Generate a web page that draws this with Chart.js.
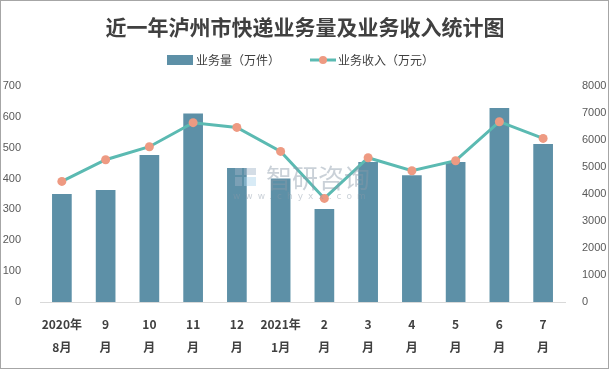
<!DOCTYPE html>
<html>
<head>
<meta charset="utf-8">
<script src="https://cdn.jsdelivr.net/npm/chart.js@4/dist/chart.umd.min.js"></script>
<style>
  html, body { margin: 0; padding: 0; background: #fff; }
  #wrap { width: 609px; height: 369px; position: relative; }
</style>
</head>
<body>
<div id="wrap"><canvas id="chart" width="609" height="369"></canvas></div>
<script>
const chartTitle = "近一年泸州市快递业务量及业务收入统计图";
const categories = [
  ["2020年", "8月"], ["9", "月"], ["10", "月"], ["11", "月"], ["12", "月"],
  ["2021年", "1月"], ["2", "月"], ["3", "月"], ["4", "月"], ["5", "月"],
  ["6", "月"], ["7", "月"]
];
const volumeLabel = "业务量（万件）";
const revenueLabel = "业务收入（万元）";
const volume = [350, 363, 476, 611, 434, 400, 301, 454, 411, 454, 629, 512];
const revenue = [4467, 5270, 5752, 6641, 6467, 5578, 3837, 5344, 4863, 5233, 6678, 6059];
const leftMax = 700, leftStep = 100;
const rightMax = 8000, rightStep = 1000;

const barColor = "#5d90a7";
const lineColor = "#5bbab2";
const dotColor = "#ee9a82";
const textColor = "#404040";

// 标题、图例、水印和边框
const decorPlugin = {
  id: "decor",
  afterDraw(chart) {
    const ctx = chart.ctx;
    ctx.save();
    // 边框
    ctx.strokeStyle = "#a6a6a6";
    ctx.lineWidth = 1;
    ctx.strokeRect(0.5, 0.5, 608, 368);

    // 标题
    ctx.fillStyle = textColor;
    ctx.font = "bold 21px 'Noto Sans CJK SC'";
    ctx.textAlign = "center";
    ctx.textBaseline = "middle";
    ctx.fillText(chartTitle, 305, 27);

    // 图例
    ctx.font = "12px 'Noto Sans CJK SC'";
    ctx.textAlign = "left";
    ctx.fillStyle = barColor;
    ctx.fillRect(167, 55, 26, 10);
    ctx.fillStyle = textColor;
    ctx.fillText(volumeLabel, 196, 60);

    ctx.strokeStyle = lineColor;
    ctx.lineWidth = 3;
    ctx.beginPath();
    ctx.moveTo(310, 60);
    ctx.lineTo(336, 60);
    ctx.stroke();
    ctx.fillStyle = dotColor;
    ctx.beginPath();
    ctx.arc(323, 60, 4, 0, Math.PI * 2);
    ctx.fill();
    ctx.fillStyle = textColor;
    ctx.fillText(revenueLabel, 338, 60);

    // 水印
    ctx.globalAlpha = 0.45;
    ctx.fillStyle = "#9fb4c8";
    ctx.fillRect(235, 168, 7, 7);
    ctx.fillRect(244, 168, 12, 7);
    ctx.fillRect(235, 177, 7, 9);
    ctx.fillStyle = "#a9d2ea";
    ctx.fillRect(244, 177, 12, 9);
    ctx.fillStyle = "#8a9aa8";
    ctx.font = "26px 'Noto Sans CJK SC'";
    ctx.fillText("智研咨询", 266, 178);
    ctx.font = "9px 'DejaVu Sans'";
    ctx.letterSpacing = "5px";
    ctx.fillText("www.chyxx.com", 233, 197);
    ctx.restore();
  }
};

const plainTick = (v) => String(v);

new Chart(document.getElementById("chart"), {
  data: {
    labels: categories,
    datasets: [
      {
        type: "line",
        label: revenueLabel,
        data: revenue,
        yAxisID: "yR",
        borderColor: lineColor,
        borderWidth: 3,
        pointBackgroundColor: dotColor,
        pointBorderWidth: 0,
        pointRadius: 4.5,
        tension: 0,
        order: 0
      },
      {
        type: "bar",
        label: volumeLabel,
        data: volume,
        yAxisID: "y",
        backgroundColor: barColor,
        categoryPercentage: 1,
        barPercentage: 0.45,
        order: 1
      }
    ]
  },
  options: {
    responsive: false,
    animation: false,
    layout: { padding: { top: 86, bottom: 0, left: 0, right: 0 } },
    plugins: {
      legend: { display: false },
      title: { display: false },
      tooltip: { enabled: false }
    },
    scales: {
      x: {
        grid: { display: false },
        border: { display: true, color: "#d9d9d9", width: 1 },
        ticks: {
          color: textColor,
          font: { family: "'Noto Sans CJK SC'", size: 12, weight: "bold", lineHeight: 1.9 },
          padding: 3,
          maxRotation: 0,
          autoSkip: false
        },
        afterFit(scale) { scale.height = 67; }
      },
      y: {
        position: "left",
        min: 0,
        max: leftMax,
        grid: { display: false },
        border: { display: false },
        ticks: {
          stepSize: leftStep,
          color: "#595959",
          font: { family: "'Liberation Sans'", size: 11 },
          padding: 11,
          callback: plainTick
        },
        afterFit(scale) { scale.width = 40; }
      },
      yR: {
        position: "right",
        min: 0,
        max: rightMax,
        grid: { display: false },
        border: { display: false },
        ticks: {
          stepSize: rightStep,
          color: "#595959",
          font: { family: "'Liberation Sans'", size: 11 },
          padding: 9,
          callback: plainTick
        },
        afterFit(scale) { scale.width = 44; }
      }
    }
  },
  plugins: [decorPlugin]
});
</script>
</body>
</html>
